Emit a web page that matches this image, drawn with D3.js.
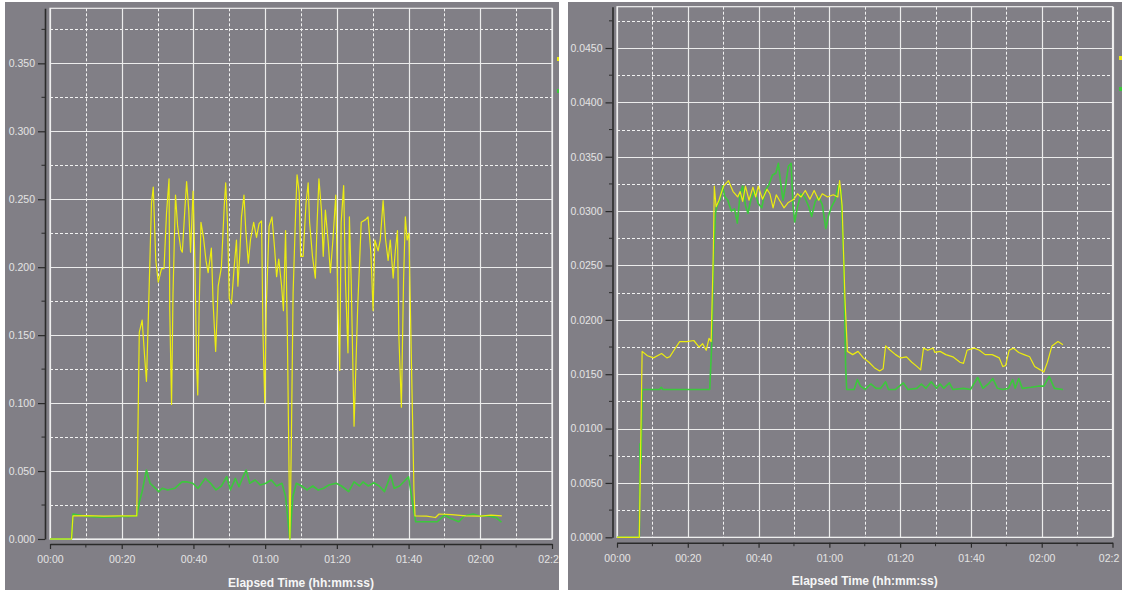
<!DOCTYPE html>
<html><head><meta charset="utf-8">
<script src="https://cdn.jsdelivr.net/npm/d3@7"></script>
<style>html,body{margin:0;padding:0;background:#fff;}svg{display:block;}</style>
</head><body>
<svg id="c" width="1122" height="592"></svg>
<script>
// ---- data: [seconds, value] ----
const xTickValues = [0, 20, 40, 60, 80, 100, 120, 140];
// last label is cut off by the panel edge in the original ("02:20" shows as "02:2")
const xTickLabels = ["00:00", "00:20", "00:40", "01:00", "01:20", "01:40", "02:00", "02:2"];
const leftYTicks = [0, 0.05, 0.10, 0.15, 0.20, 0.25, 0.30, 0.35];
const rightYTicks = [0, 0.005, 0.010, 0.015, 0.020, 0.025, 0.030, 0.035, 0.040, 0.045];
const xAxisTitle = "Elapsed Time (hh:mm:ss)";

const leftYellow = [[0,0],[6.0,0],[6.4,0.017],[10,0.0172],[15,0.0168],[20,0.017],[24.2,0.017],[24.9,0.152],[25.7,0.161],[26.4,0.134],[26.9,0.116],[27.4,0.161],[28.3,0.247],[28.8,0.259],[29.5,0.205],[30.2,0.189],[31.1,0.199],[31.8,0.199],[32.5,0.240],[33.2,0.265],[33.4,0.168],[33.9,0.099],[34.3,0.18],[35.0,0.253],[35.6,0.23],[36.5,0.213],[36.9,0.211],[37.6,0.242],[38.1,0.263],[38.7,0.242],[39.2,0.211],[39.9,0.256],[40.4,0.205],[40.9,0.127],[41.2,0.106],[41.6,0.17],[42.1,0.233],[42.8,0.222],[43.5,0.205],[44.1,0.196],[45.0,0.214],[45.5,0.173],[46.2,0.138],[46.9,0.186],[47.8,0.200],[48.6,0.245],[49.0,0.262],[49.5,0.233],[50.0,0.177],[50.6,0.173],[51.3,0.198],[52.0,0.220],[52.4,0.186],[52.9,0.208],[53.4,0.237],[54.1,0.253],[54.6,0.227],[55.3,0.203],[55.9,0.220],[56.8,0.233],[57.6,0.222],[58.3,0.232],[59.0,0.234],[59.4,0.151],[59.9,0.100],[60.3,0.17],[61.1,0.230],[61.9,0.237],[62.6,0.215],[63.2,0.193],[63.8,0.206],[64.6,0.186],[65.1,0.168],[65.7,0.227],[66.2,0.15],[66.9,0.0],[67.3,0.07],[67.8,0.181],[68.5,0.240],[68.9,0.268],[69.5,0.255],[69.9,0.208],[70.6,0.208],[71.4,0.247],[72.0,0.262],[72.4,0.233],[73.2,0.208],[74.0,0.192],[74.5,0.233],[75.0,0.265],[75.7,0.242],[76.2,0.208],[76.8,0.242],[77.6,0.218],[78.2,0.196],[78.9,0.22],[79.7,0.253],[80.3,0.173],[80.8,0.124],[81.2,0.233],[81.9,0.260],[82.4,0.19],[83.1,0.137],[83.5,0.237],[84.0,0.19],[84.8,0.083],[85.8,0.17],[86.8,0.233],[88.0,0.235],[88.7,0.237],[89.5,0.21],[90.1,0.168],[90.6,0.22],[91.5,0.212],[92.1,0.22],[92.9,0.249],[93.6,0.22],[94.3,0.205],[94.9,0.22],[95.7,0.192],[96.3,0.212],[96.9,0.227],[97.3,0.149],[98.0,0.097],[98.6,0.19],[99.1,0.237],[99.6,0.22],[100.1,0.225],[100.8,0.13],[101.5,0.036],[101.8,0.017],[105,0.0168],[107.5,0.0158],[108.5,0.0184],[112,0.018],[116,0.017],[120,0.0168],[123,0.0175],[126,0.017]];

const leftGreen = [[0,0],[6.0,0],[6.4,0.0184],[10,0.0167],[14,0.0160],[18,0.0162],[20,0.0167],[22,0.0165],[24.2,0.0172],[24.9,0.027],[25.7,0.035],[26.9,0.0508],[27.9,0.041],[29.4,0.0373],[30.3,0.0349],[31.3,0.0373],[32.8,0.0361],[34.8,0.0373],[35.8,0.0397],[36.8,0.042],[38.3,0.042],[39.8,0.041],[41.3,0.0373],[43.3,0.0446],[44.8,0.041],[46.3,0.0361],[47.8,0.039],[49.3,0.0458],[50.3,0.0361],[51.7,0.0446],[52.7,0.0385],[53.7,0.045],[54.7,0.0508],[55.7,0.041],[57.2,0.0434],[58.7,0.0397],[60.2,0.041],[61.7,0.0434],[63.2,0.039],[64.7,0.041],[65.7,0.0312],[66.9,0.0],[67.7,0.031],[68.7,0.041],[70.2,0.039],[71.7,0.0361],[73.3,0.039],[74.8,0.036],[76.3,0.0373],[77.8,0.0397],[79.8,0.041],[81.3,0.039],[83.3,0.0349],[84.8,0.042],[86.3,0.039],[87.3,0.042],[88.8,0.039],[90.3,0.0414],[91.8,0.039],[93.3,0.0349],[95.0,0.0471],[96.0,0.0373],[97.5,0.039],[100.0,0.0458],[101.5,0.020],[102,0.0127],[108,0.0127],[110,0.0176],[111.5,0.0155],[114,0.0127],[115.5,0.0169],[118,0.0184],[120,0.0167],[122,0.0172],[124.5,0.0157],[125.9,0.0123]];

const rightYellow = [[0,0],[6.3,0],[6.7,0.0085],[7.1,0.0171],[8.6,0.0167],[10.3,0.0165],[12.6,0.0169],[14.1,0.0165],[14.9,0.0166],[16.1,0.0172],[17.7,0.0180],[19.7,0.0180],[21.7,0.0181],[23.2,0.0175],[24.2,0.0178],[25.2,0.0172],[26.0,0.0183],[26.6,0.018],[27.2,0.026],[27.5,0.0323],[28.0,0.0304],[28.8,0.0310],[30.1,0.0323],[31.5,0.0328],[32.8,0.0318],[34.1,0.0313],[34.8,0.0318],[35.5,0.0309],[36.3,0.0323],[37.3,0.031],[38.4,0.0322],[39.2,0.0313],[39.9,0.0323],[41.1,0.0311],[42.4,0.032],[43.2,0.0316],[44.1,0.0303],[45.0,0.0315],[45.9,0.031],[47.2,0.0303],[48.4,0.0308],[50.0,0.0311],[51.0,0.0316],[52.0,0.0313],[53.2,0.0319],[54.5,0.0311],[55.7,0.0319],[57.0,0.031],[58.0,0.0316],[59.5,0.0313],[61.1,0.0315],[62.4,0.0313],[62.9,0.0328],[63.6,0.0305],[64.4,0.022],[65.1,0.0171],[66.6,0.0168],[68.1,0.0171],[69.6,0.0165],[71.2,0.0161],[72.7,0.0156],[74.2,0.0153],[75.2,0.0155],[75.9,0.0176],[77.2,0.0172],[78.7,0.0168],[80.2,0.0165],[81.8,0.0166],[83.3,0.0161],[84.8,0.0157],[85.8,0.0154],[86.6,0.0174],[87.8,0.0172],[89.3,0.0174],[89.8,0.017],[91.3,0.0171],[92.9,0.0168],[94.9,0.0166],[96.9,0.0161],[97.9,0.016],[98.9,0.0172],[100.9,0.0174],[102.4,0.0172],[104,0.0168],[106,0.0168],[108,0.0165],[109,0.0157],[109.8,0.0158],[110.8,0.0172],[112,0.0174],[113.5,0.0170],[115,0.0168],[116.6,0.0166],[118,0.0157],[119.6,0.0154],[120.6,0.0152],[121.6,0.0161],[122.9,0.0176],[124.6,0.0180],[126.0,0.0177]];

const rightGreen = [[0,0],[6.3,0],[6.5,0.0086],[6.8,0.0068],[7.1,0.0136],[12,0.0136],[12.5,0.0138],[13,0.0136],[20,0.0136],[26.2,0.0136],[26.8,0.018],[27.3,0.026],[27.8,0.0298],[28.3,0.0305],[29.1,0.031],[29.8,0.0323],[30.5,0.0313],[31.3,0.031],[32.3,0.0300],[33.2,0.0302],[34.0,0.0289],[34.8,0.0316],[35.5,0.0323],[36.3,0.0305],[37.0,0.0298],[37.8,0.031],[38.9,0.0319],[39.9,0.0307],[40.9,0.0303],[41.9,0.0319],[42.9,0.0324],[43.9,0.0333],[44.9,0.0335],[45.6,0.0344],[46.2,0.0327],[46.9,0.0310],[47.6,0.0323],[48.4,0.0341],[49.2,0.0344],[49.7,0.0307],[50.2,0.0290],[51.0,0.0304],[52.0,0.0316],[53.0,0.0313],[54.2,0.0304],[55.0,0.0295],[56.0,0.0309],[57.0,0.0313],[58.0,0.0306],[59.0,0.0284],[59.7,0.0295],[60.6,0.0304],[61.6,0.031],[62.6,0.0324],[63.3,0.0319],[64.1,0.025],[64.6,0.0157],[64.9,0.0136],[67.0,0.0136],[67.9,0.0145],[68.8,0.0139],[70.1,0.0136],[71.7,0.0141],[73.2,0.0137],[74.5,0.0137],[75.9,0.0143],[76.7,0.0136],[78.7,0.0136],[80.9,0.0142],[82.2,0.0136],[84.7,0.0137],[86.0,0.0141],[87.3,0.0137],[88.8,0.0143],[90.3,0.0137],[91.3,0.0141],[92.3,0.0137],[93.9,0.0142],[94.9,0.0136],[97.9,0.0137],[99.9,0.0136],[101.9,0.0147],[103.4,0.0137],[104.9,0.0141],[106.2,0.0146],[107.5,0.0137],[109,0.0136],[110.6,0.0137],[111.8,0.0145],[112.5,0.0137],[113.5,0.0146],[114.5,0.0137],[117,0.0138],[119,0.0139],[120.6,0.0139],[122.1,0.0148],[123.6,0.0137],[126.0,0.0136]];

// ---- layout / style ----
const BG = "#817f86";
const YELLOW = "#ecec10";
const GREEN = "#3cc83c";
const FONT = "Liberation Sans, Arial, sans-serif";
const svg = d3.select("#c");

const panels = [
  {id:"L", bg:{x:5, y:2, w:554, h:588}, axisX:45, plot:{l:50, r:552, t:8.3, b:539}, xAxisY:544,
   yMax:0.3905, yTicks:leftYTicks, yStep:0.025, fmt:d3.format(".3f"), titleY:587,
   yellow:leftYellow, green:leftGreen, mark:{x:557, y1:57, y2:89}},
  {id:"R", bg:{x:568, y:2, w:554, h:588}, axisX:612.5, plot:{l:617, r:1112.5, t:6.7, b:537.3}, xAxisY:542.7,
   yMax:0.0488, yTicks:rightYTicks, yStep:0.0025, fmt:d3.format(".4f"), titleY:585,
   yellow:rightYellow, green:rightGreen, mark:{x:1119, y1:56, y2:87}}
];

const defs = svg.append("defs");

panels.forEach(p => {
  defs.append("clipPath").attr("id","bg"+p.id).append("rect")
    .attr("x",p.bg.x).attr("y",p.bg.y).attr("width",p.bg.w).attr("height",p.bg.h);
  defs.append("clipPath").attr("id","pl"+p.id).append("rect")
    .attr("x",p.plot.l).attr("y",p.plot.t-1).attr("width",p.plot.r-p.plot.l).attr("height",p.plot.b-p.plot.t+2);

  const g = svg.append("g").attr("clip-path","url(#bg"+p.id+")");
  g.append("rect").attr("x",p.bg.x).attr("y",p.bg.y).attr("width",p.bg.w).attr("height",p.bg.h).attr("fill",BG);

  const x = d3.scaleLinear().domain([0,140]).range([p.plot.l, p.plot.r]);
  const y = d3.scaleLinear().domain([0,p.yMax]).range([p.plot.b, p.plot.t]);

  // minor dashed grid
  const minorY = [];
  for (let i = 1; i * p.yStep < p.yMax; i += 2) minorY.push(i * p.yStep);
  const minorX = [10,30,50,70,90,110,130];
  const grid = g.append("g");
  grid.selectAll(".mh").data(minorY).join("line")
    .attr("x1",p.plot.l).attr("x2",p.plot.r).attr("y1",d=>Math.round(y(d))+0.5).attr("y2",d=>Math.round(y(d))+0.5)
    .attr("stroke","#f2f2f2").attr("stroke-width",1).attr("stroke-dasharray","3,2");
  grid.selectAll(".mv").data(minorX).join("line")
    .attr("y1",p.plot.t).attr("y2",p.plot.b).attr("x1",d=>Math.round(x(d))+0.5).attr("x2",d=>Math.round(x(d))+0.5)
    .attr("stroke","#f2f2f2").attr("stroke-width",1).attr("stroke-dasharray","3,2");
  // major solid grid
  grid.selectAll(".Mh").data(p.yTicks).join("line")
    .attr("x1",p.plot.l).attr("x2",p.plot.r).attr("y1",d=>Math.round(y(d))+0.5).attr("y2",d=>Math.round(y(d))+0.5)
    .attr("stroke","#ececec").attr("stroke-width",1.2);
  grid.selectAll(".Mv").data(xTickValues).join("line")
    .attr("y1",p.plot.t).attr("y2",p.plot.b).attr("x1",d=>Math.round(x(d))+0.5).attr("x2",d=>Math.round(x(d))+0.5)
    .attr("stroke","#ececec").attr("stroke-width",1.2);
  g.append("rect").attr("x",p.plot.l).attr("y",p.plot.t).attr("width",p.plot.r-p.plot.l).attr("height",p.plot.b-p.plot.t)
    .attr("fill","none").attr("stroke","#f0f0f0").attr("stroke-width",1.2);

  // series
  const line = d3.line().x(d=>x(d[0])).y(d=>y(d[1]));
  const sg = g.append("g").attr("clip-path","url(#pl"+p.id+")");
  sg.append("path").datum(p.green).attr("d",line).attr("fill","none").attr("stroke",GREEN).attr("stroke-width",1.6).attr("stroke-linejoin","round");
  sg.append("path").datum(p.yellow).attr("d",line).attr("fill","none").attr("stroke",YELLOW).attr("stroke-width",1.2).attr("stroke-linejoin","round");

  // y axis
  const allY = [];
  for (let i = 0; i * p.yStep <= p.yMax + 1e-9; i++) allY.push(i * p.yStep);
  const ya = g.append("g").attr("transform","translate("+p.axisX+",0)");
  ya.call(d3.axisLeft(y).tickValues(p.yTicks).tickSize(7).tickSizeOuter(0).tickPadding(3).tickFormat(p.fmt));
  ya.selectAll(".minor").data(allY.filter((d,i)=>i%2===1)).join("line").attr("class","minor")
    .attr("x1",-3.5).attr("x2",0).attr("y1",d=>y(d)).attr("y2",d=>y(d)).attr("stroke","#2a2a2a");
  // x axis
  const xa = g.append("g").attr("transform","translate(0,"+p.xAxisY+")");
  xa.call(d3.axisBottom(x).tickValues(xTickValues).tickSize(5).tickSizeOuter(0).tickPadding(7)
    .tickFormat((d,i)=>xTickLabels[i]));
  xa.selectAll(".minor").data(minorX).join("line").attr("class","minor")
    .attr("y1",0).attr("y2",3.5).attr("x1",d=>x(d)).attr("x2",d=>x(d)).attr("stroke","#2a2a2a");

  [ya, xa].forEach(a => {
    a.select(".domain").attr("stroke","#2a2a2a").attr("stroke-width",1.6);
    a.selectAll(".tick line").attr("stroke","#2a2a2a").attr("stroke-width",1.2);
    a.selectAll(".tick text").attr("fill","#e4e4e4").attr("font-family",FONT).attr("font-size","10.5px");
  });
  // the truncated last label starts where the full "02:20" would start
  xa.selectAll(".tick text").filter((d,i)=>i===xTickValues.length-1).attr("text-anchor","start").attr("x",-14.2);

  g.append("text").attr("x",(p.plot.l+p.plot.r)/2).attr("y",p.titleY).attr("text-anchor","middle")
    .attr("font-family",FONT).attr("font-weight","bold").attr("font-size","12px")
    .attr("fill","#f6f6f6").text(xAxisTitle);

  // cut-off legend markers at the right edge
  g.append("rect").attr("x",p.mark.x).attr("y",p.mark.y1).attr("width",3).attr("height",4).attr("fill",YELLOW);
  g.append("rect").attr("x",p.mark.x).attr("y",p.mark.y2).attr("width",3).attr("height",4).attr("fill",GREEN);
});
</script>
</body></html>
